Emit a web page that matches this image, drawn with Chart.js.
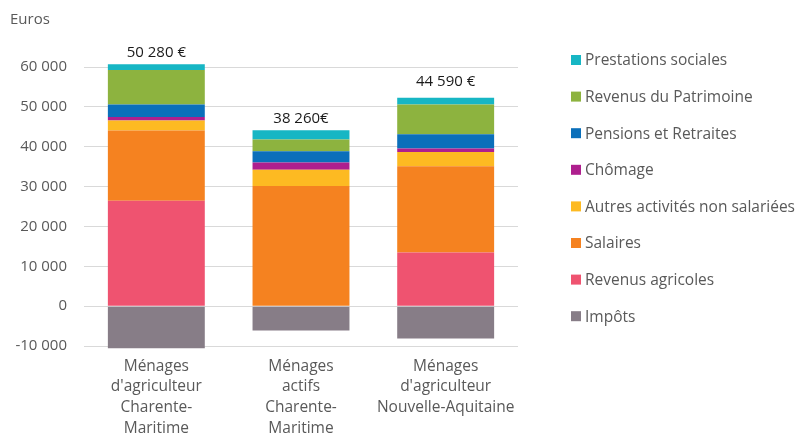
<!DOCTYPE html>
<html>
<head>
<meta charset="utf-8">
<script src="https://cdn.jsdelivr.net/npm/chart.js@4/dist/chart.umd.min.js"></script>
<style>
  html, body { margin: 0; padding: 0; background: #fff; }
  #wrap { width: 801px; height: 437px; position: relative; }
</style>
</head>
<body>
<div id="wrap"><canvas id="barchart"></canvas></div>
<script>
// menages compares
let labels = [
	['Ménages', "d'agriculteur", 'Charente-', 'Maritime'],
	['Ménages', 'actifs', 'Charente-', 'Maritime'],
	['Ménages', "d'agriculteur", 'Nouvelle-Aquitaine']
]

// revenus par poste (euros), de bas en haut
let impots = [-10590, -6100, -8140]
let revenusAgricoles = [26470, 0, 13440]
let salaires = [17570, 30170, 21680]
let autresActivites = [2520, 4030, 3530]
let chomage = [910, 1840, 930]
let pensions = [3130, 2850, 3530]
let patrimoine = [8650, 2950, 7490]
let prestations = [1440, 2270, 1660]

// totaux affiches au dessus des barres
let totaux = ['50 280 €', '38 260€', '44 590 €']

let ticksY = [-10000, 0, 10000, 20000, 30000, 40000, 50000, 60000]

let font = "'Open Sans', sans-serif"
let grijs = '#595959'

let series = [
	{ label: 'Impôts', data: impots, color: '#877D87' },
	{ label: 'Revenus agricoles', data: revenusAgricoles, color: '#EF5370' },
	{ label: 'Salaires', data: salaires, color: '#F58220' },
	{ label: 'Autres activités non salariées', data: autresActivites, color: '#FDBA22' },
	{ label: 'Chômage', data: chomage, color: '#AE1F8E' },
	{ label: 'Pensions et Retraites', data: pensions, color: '#0B6FBA' },
	{ label: 'Revenus du Patrimoine', data: patrimoine, color: '#8DB33F' },
	{ label: 'Prestations sociales', data: prestations, color: '#17B6C4' }
]

// extra tekst: eenheid, totalen en legende
let extras = {
	id: 'extras',
	afterDatasetsDraw(chart) {
		let ctx = chart.ctx
		let y = chart.scales.y
		let x = chart.scales.x
		ctx.save()
		ctx.font = '15px ' + font
		ctx.fillStyle = grijs
		ctx.textAlign = 'left'
		ctx.textBaseline = 'middle'
		ctx.fillText('Euros', 10, 20)

		// totalen
		ctx.fillStyle = '#1a1a1a'
		ctx.textAlign = 'center'
		ctx.textBaseline = 'bottom'
		for (let i = 0; i < labels.length; i++) {
			let top = 0
			chart.data.datasets.forEach(ds => { if (ds.data[i] > 0) top += ds.data[i] })
			let gap = i == 2 ? 9 : 4
			ctx.fillText(totaux[i], x.getPixelForValue(i), y.getPixelForValue(top) - gap)
		}

		// legende, omgekeerde volgorde
		let ds = chart.data.datasets.slice().reverse()
		ctx.font = '15.5px ' + font
		ctx.textAlign = 'left'
		ctx.textBaseline = 'middle'
		ds.forEach((d, k) => {
			let cy = 60 + k * 36.6
			ctx.fillStyle = d.backgroundColor
			ctx.fillRect(571, cy - 5, 10, 10)
			ctx.fillStyle = grijs
			ctx.fillText(d.label, 585, cy + 1)
		})
		ctx.restore()
	}
}

let myChart = document.getElementById('barchart').getContext('2d')

let chart = new Chart(myChart, {
	type: 'bar',
	data: {
		labels: labels,
		datasets: series.map(s => ({
			label: s.label,
			data: s.data,
			backgroundColor: s.color,
			borderWidth: 0,
			barPercentage: 0.67,
			categoryPercentage: 1,
			clip: false
		}))
	},
	options: {
		responsive: true,
		maintainAspectRatio: false,
		animation: false,
		layout: { padding: { top: 67, right: 283, left: 0, bottom: 0 } },
		plugins: {
			legend: { display: false },
			tooltip: { enabled: false }
		},
		scales: {
			x: {
				stacked: true,
				grid: { display: false, drawTicks: false },
				border: { display: false },
				ticks: { color: grijs, font: { family: font, size: 15.5, lineHeight: 1.33 }, padding: 10, maxRotation: 0, autoSkip: false },
				afterFit: s => { s.height = 91 }
			},
			y: {
				stacked: true,
				min: -10000,
				max: 60000,
				afterBuildTicks: s => { s.ticks = ticksY.map(v => ({ value: v })) },
				grid: { color: '#d9d9d9', drawTicks: false },
				border: { display: false },
				ticks: {
					color: grijs,
					font: { family: font, size: 15 },
					padding: 17,
					callback: v => v.toLocaleString('fr-FR').replace(/\u202f|\u00a0/g, ' ')
				},
				afterFit: s => { s.width = 84 }
			}
		}
	},
	plugins: [extras]
})
</script>
</body>
</html>
